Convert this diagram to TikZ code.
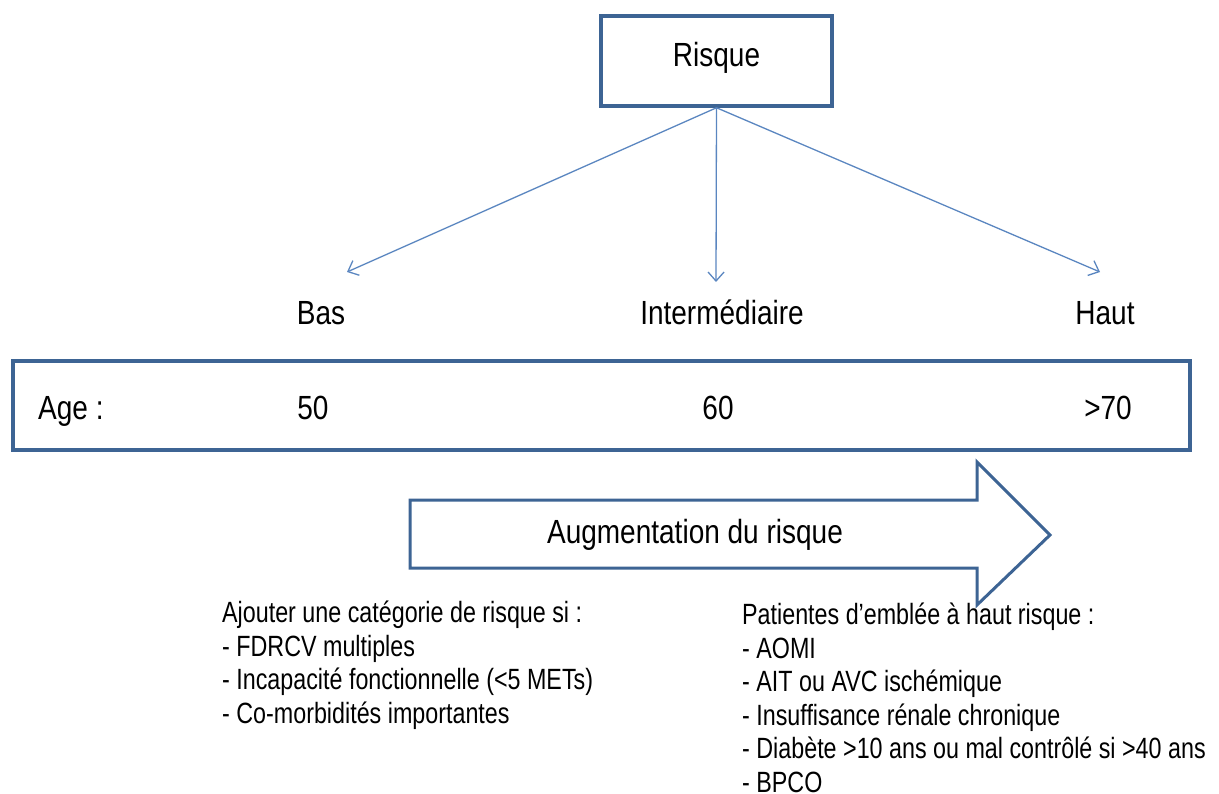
\documentclass[tikz,border=0pt]{standalone}
\usepackage{fontspec}
\setmainfont{Liberation Sans}
\newfontfamily\bigfont[FakeStretch=0.836]{Liberation Sans}
\newfontfamily\listfont[FakeStretch=0.795]{Liberation Sans}
\usetikzlibrary{arrows.meta}
\definecolor{boxblue}{HTML}{3D6494}
\definecolor{linkblue}{HTML}{5A86C0}
\begin{document}
\begin{tikzpicture}[x=1pt,y=-1pt,
  frame/.style={draw=boxblue,line width=3.5pt},
  link/.style={draw=linkblue,line width=1.3pt,-{Straight Barb[length=9pt,width=16pt,line width=1.3pt]}},
  big/.style={font=\bigfont\fontsize{33.5}{36}\selectfont,inner sep=0pt,anchor=base},
  small/.style={font=\listfont\fontsize{29.3}{33.5}\selectfont,inner sep=0pt,anchor=base west}]
\useasboundingbox (0,0) rectangle (1219,794);
% top box
\node[frame,minimum width=231pt,minimum height=90pt,inner sep=0pt] (risk) at (716.5,61) {};
\node[big] (risktxt) at (716.5,67) {Risque};
% risk levels
\node[big] (low) at (321,325) {Bas};
\node[big] (mid) at (722,325) {Intermédiaire};
\node[big] (high) at (1105,325) {Haut};
\coordinate (lowend) at (347,272);
\coordinate (midend) at (716,282);
\coordinate (highend) at (1100,272);
\draw[link] (risk.south) -- (lowend);
\draw[link] (risk.south) -- (midend);
\draw[link] (risk.south) -- (highend);
% age box
\node[frame,minimum width=1177pt,minimum height=89pt,inner sep=0pt] (agebox) at (601.5,405.5) {};
\node[big,anchor=base west] (age) at (38,420) {Age :};
\node[big] (a50) at (313,420) {50};
\node[big] (a60) at (718,420) {60};
\node[big] (a70) at (1108,420) {>70};
% big arrow
\draw[draw=boxblue,line width=3pt,fill=white,line join=miter]
  (410,500) -- (977,500) -- (977,462) -- (1050,535) -- (977,605) -- (977,568) -- (410,568) -- cycle;
\node[big] (incr) at (695,543) {Augmentation du risque};
% left list
\node[small] (l1) at (222,622.5) {Ajouter une catégorie de risque si :};
\node[small] (l2) at (222,656) {- FDRCV multiples};
\node[small] (l3) at (222,689.5) {- Incapacité fonctionnelle (<5 METs)};
\node[small] (l4) at (222,723) {- Co-morbidités importantes};
% right list
\node[small] (r1) at (742,624.5) {Patientes d’emblée à haut risque :};
\node[small] (r2) at (742,658) {- AOMI};
\node[small] (r3) at (742,691.5) {- AIT ou AVC ischémique};
\node[small] (r4) at (742,725) {- Insuffisance rénale chronique};
\node[small] (r5) at (742,758.5) {- Diabète >10 ans ou mal contrôlé si >40 ans};
\node[small] (r6) at (742,792) {- BPCO};
\end{tikzpicture}
\end{document}
